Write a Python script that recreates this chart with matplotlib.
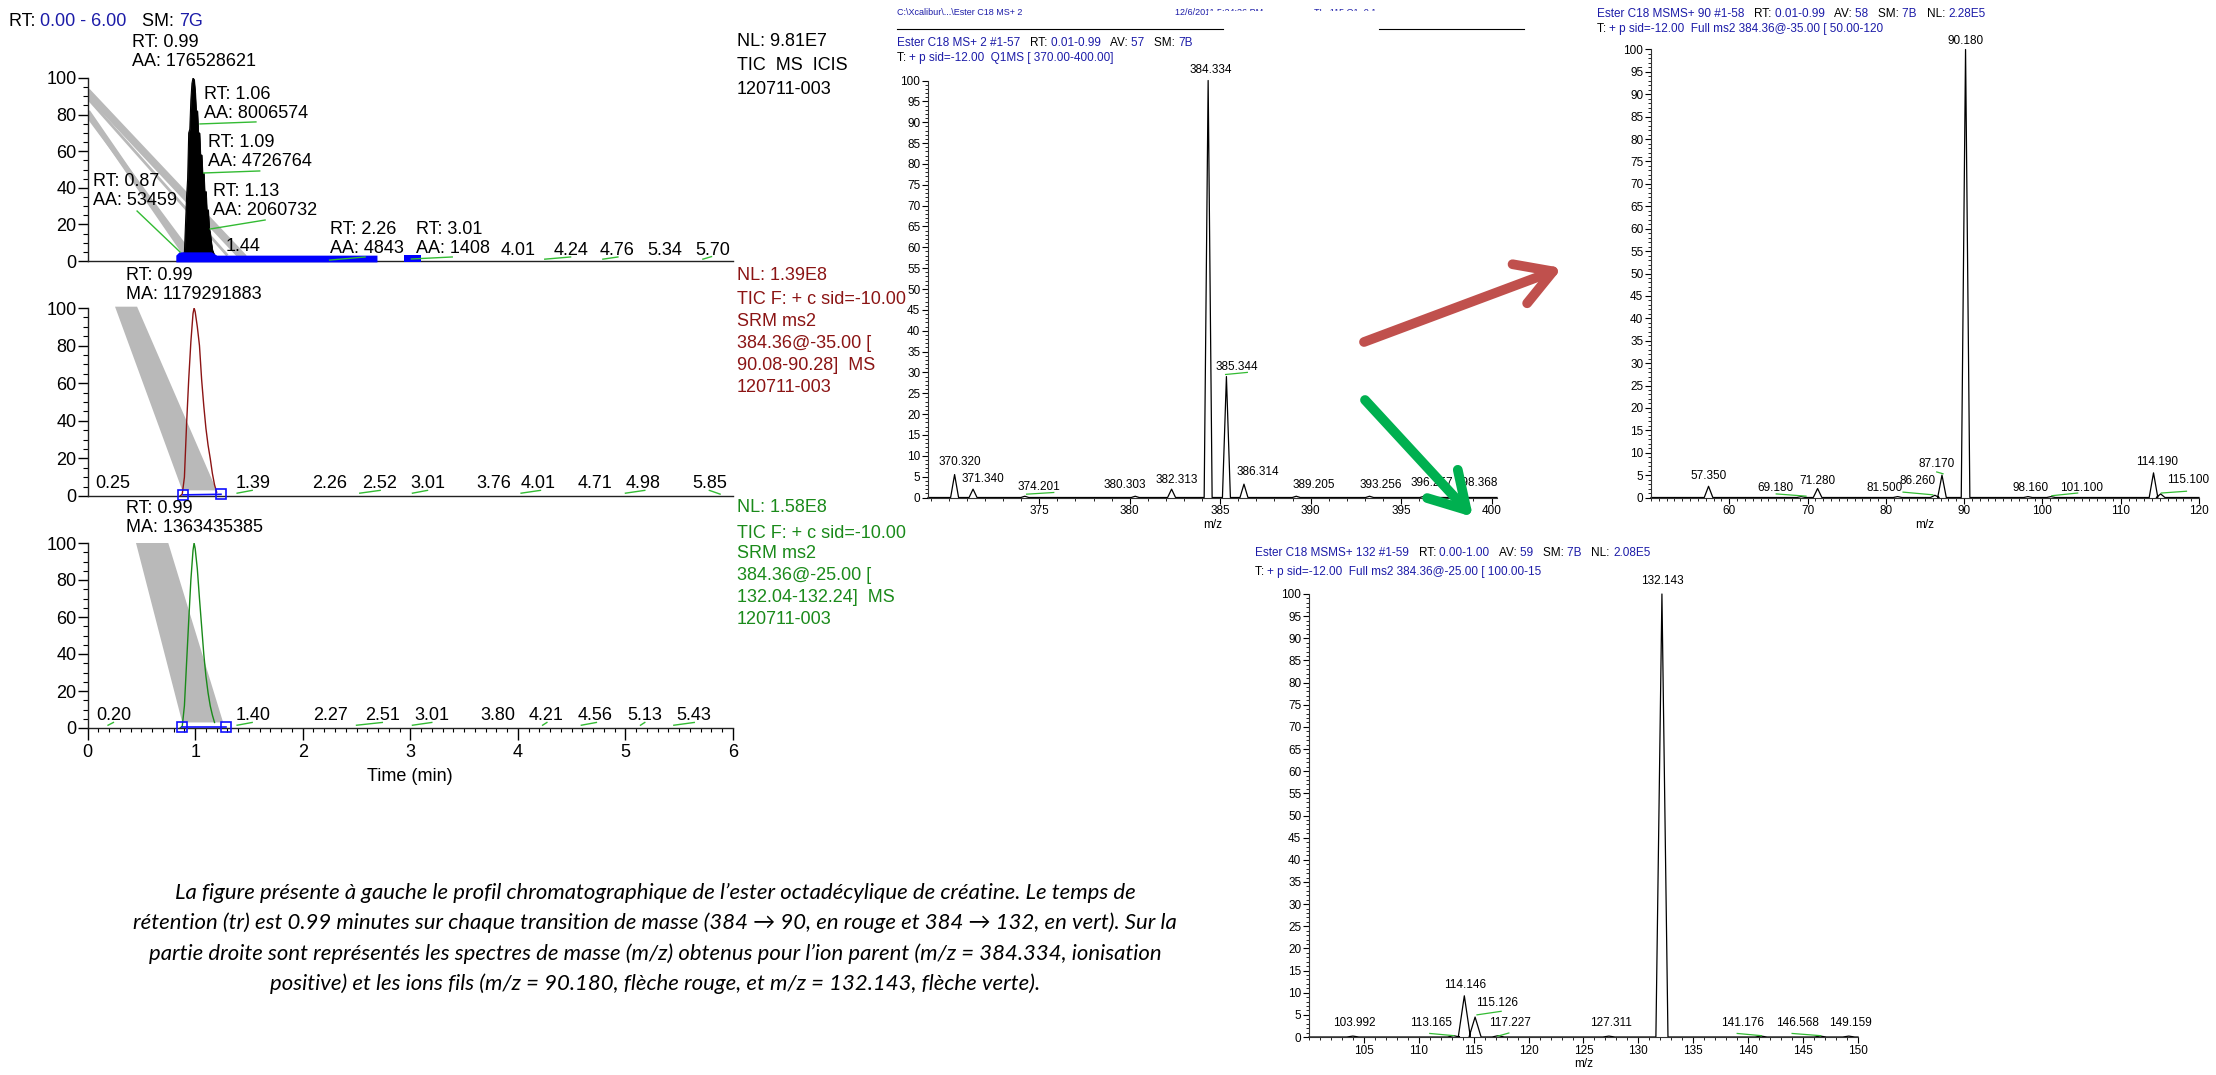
import matplotlib
matplotlib.use('Agg')
import matplotlib.pyplot as plt
import numpy as np
from matplotlib import font_manager as fm
from matplotlib.patches import Rectangle

W, H, DPI = 2216, 1075, 100

# ------------------------------------------------------------------ data
# TIC chromatogram (time min, relative abundance %)
tic_t = [0.86, 0.88, 0.90, 0.91, 0.92, 0.93, 0.94, 0.95, 0.96, 0.97, 0.98, 0.99, 1.00,
         1.01, 1.02, 1.03, 1.04, 1.05, 1.06, 1.07, 1.08, 1.09, 1.10, 1.11, 1.12, 1.13,
         1.14, 1.15, 1.16, 1.18, 1.20, 1.25, 1.30]
tic_v = [0, 2, 5, 20, 35, 45, 70, 72, 88, 97, 100, 99, 92,
         80, 82, 68, 70, 55, 58, 45, 48, 35, 38, 25, 28, 18,
         15, 10, 6, 3, 2, 1, 0]
# SRM 384 -> 90 chromatogram
srm90_t = [0.86, 0.88, 0.90, 0.92, 0.94, 0.96, 0.98, 0.99, 1.00, 1.02, 1.04, 1.06,
           1.08, 1.10, 1.12, 1.14, 1.16, 1.18, 1.20]
srm90_v = [0, 1, 10, 38, 62, 82, 97, 100, 98, 90, 80, 62, 48, 36, 27, 20, 12, 6, 2]
# SRM 384 -> 132 chromatogram
srm132_t = [0.86, 0.88, 0.90, 0.92, 0.94, 0.96, 0.98, 0.99, 1.00, 1.02, 1.04, 1.06,
            1.08, 1.10, 1.12, 1.14, 1.16, 1.18]
srm132_v = [0, 1, 12, 35, 58, 80, 96, 100, 97, 86, 70, 55, 40, 28, 19, 12, 7, 3]

# Peak labels of the chromatograms
tic_labels = ["RT: 0.99\nAA: 176528621", "RT: 1.06\nAA: 8006574", "RT: 1.09\nAA: 4726764",
              "RT: 1.13\nAA: 2060732", "RT: 0.87\nAA: 53459", "1.44",
              "RT: 2.26\nAA: 4843", "RT: 3.01\nAA: 1408", "4.01", "4.24", "4.76", "5.34", "5.70"]
srm90_labels = ["0.25", "1.39", "2.26", "2.52", "3.01", "3.76", "4.01", "4.71", "4.98", "5.85"]
srm132_labels = ["0.20", "1.40", "2.27", "2.51", "3.01", "3.80", "4.21", "4.56", "5.13", "5.43"]

# Mass spectra (m/z, relative abundance %)
ms1_mz = [370.320, 371.340, 374.201, 380.303, 382.313, 384.334, 385.344, 386.314,
          389.205, 393.256, 396.257, 398.368]
ms1_int = [5.5, 2.0, 0.3, 0.3, 2.0, 100, 29, 3.2, 0.3, 0.3, 0.3, 0.5]
ms90_mz = [57.350, 69.180, 71.280, 81.500, 86.260, 87.170, 90.180, 98.160, 101.100,
           114.190, 115.100]
ms90_int = [2.5, 0.2, 2.0, 0.2, 0.5, 5.0, 100, 0.2, 0.2, 5.5, 0.8]
ms132_mz = [103.992, 113.165, 114.146, 115.126, 117.227, 127.311, 132.143, 141.176,
            146.568, 149.159]
ms132_int = [0.2, 0.3, 9.3, 4.5, 0.3, 0.2, 100, 0.2, 0.2, 0.2]

# ------------------------------------------------------------------ fonts
names = {f.name for f in fm.fontManager.ttflist}
SANS = ['Liberation Sans', 'DejaVu Sans']
NARROW = (['Liberation Sans Narrow'] if 'Liberation Sans Narrow' in names else []) + SANS
CAPF = [f for f in ['Lato', 'Open Sans', 'DejaVu Sans'] if f in names] + ['DejaVu Sans']
plt.rcParams['font.family'] = SANS

BLUE = '#1c1ca8'
RED = '#8b1414'
GREEN = '#1a8a1a'
LGREEN = '#33bb33'
GRAY = '#b9b9b9'

fig = plt.figure(figsize=(W / DPI, H / DPI), dpi=DPI)
fig.patch.set_facecolor('white')


def rect(x0, y0, x1, y1):
    return [x0 / W, 1 - y1 / H, (x1 - x0) / W, (y1 - y0) / H]


# ------------------------------------------------------------------ chromatograms
CF = 13


def chrom_ax(y0, y1, bottom_ticks):
    ax = fig.add_axes(rect(87.6, y0, 733, y1))
    ax.set_xlim(0, 6)
    ax.set_ylim(0, 100)
    ax.spines[['top', 'right']].set_visible(False)
    for s in ['left', 'bottom']:
        ax.spines[s].set_linewidth(1.0)
        ax.spines[s].set_color('#222222')
    ax.set_yticks(np.arange(0, 101, 20))
    ax.set_yticks(np.arange(0, 101, 5), minor=True)
    ax.tick_params(axis='y', which='major', length=7.5, width=1, labelsize=CF, pad=0.5)
    ax.tick_params(axis='y', which='minor', length=3.5, width=0.8)
    if bottom_ticks:
        ax.set_xticks(range(0, 7))
        ax.set_xticks(np.arange(0, 6.001, 0.1), minor=True)
        ax.tick_params(axis='x', which='major', length=8.5, width=1, labelsize=CF, pad=3)
        ax.tick_params(axis='x', which='minor', length=3, width=0.8)
    else:
        ax.set_xticks([])
    ax.patch.set_alpha(0)
    return ax


def slash(ax, seg):
    (a, b), (c, d) = seg
    ax.plot([a, c], [b, d], color=LGREEN, lw=1.0, clip_on=False, zorder=4)


# Panel 1 : TIC
ax1 = chrom_ax(78, 261, False)
for (y0, t1, y1, lw) in [(93, 1.46, 2, 4), (91, 1.42, 2, 3), (89, 1.30, 3, 2),
                         (81.5, 0.92, 3, 4), (79.5, 0.98, 2, 3)]:
    ax1.plot([0, t1], [y0, y1], color=GRAY, lw=lw, solid_capstyle='butt', zorder=1)
ax1.fill_between(tic_t, 0, tic_v, color='black', lw=0.6, zorder=2)
ax1.plot(tic_t, tic_v, color='black', lw=0.8, zorder=2)
ax1.fill_between([0.82, 0.85, 1.15, 1.20, 2.69], -0.5, [3.2, 5, 5, 3.2, 3.2],
                 color='#0000ff', lw=0, clip_on=False, zorder=3)
ax1.fill_between([2.94, 3.10], -0.5, 3.2, color='#0000ff', lw=0, clip_on=False, zorder=3)
tic_pos = [(0.41, 114), (1.08, 86), (1.12, 59.5), (1.165, 33), (0.05, 38.5), (1.28, 7.7),
           (2.25, 12), (3.05, 12), (3.84, 6), (4.33, 6), (4.76, 6), (5.20, 6), (5.65, 6)]
for s, (x, y) in zip(tic_labels, tic_pos):
    ax1.text(x, y, s, fontsize=CF, ha='left', va='center', linespacing=1.15,
             clip_on=False, zorder=5)
for seg in [((1.045, 74.9), (1.565, 76)), ((1.08, 48.1), (1.60, 49.2)),
            ((1.14, 17.5), (1.65, 22.4)), ((0.46, 27.3), (0.86, 4.9)),
            ((2.25, 0.5), (2.58, 2.2)), ((3.01, 1.1), (3.39, 2.2)),
            ((4.25, 1.0), (4.49, 2.2)), ((4.79, 1.0), (4.93, 2.2)), ((5.72, 1.0), (5.80, 2.4))]:
    slash(ax1, seg)

# Panel 2 : SRM 90
ax2 = chrom_ax(308, 496, False)
ax2.fill([0.255, 0.46, 1.20, 0.88], [100.7, 100.7, 3, 3], color=GRAY, lw=0,
         clip_on=False, zorder=1)
ax2.plot(srm90_t, srm90_v, color=RED, lw=1.0, zorder=2)
ax2.plot([0.887, 1.24], [0.6, 0.9], color='#1010ff', lw=1.2, marker='s', mfc='none',
         mec='#1010ff', ms=7, mew=1.2, clip_on=False, zorder=4)
ax2.text(0.357, 112, "RT: 0.99\nMA: 1179291883", fontsize=CF, ha='left', va='center',
         linespacing=1.15, clip_on=False)
srm90_pos = [0.07, 1.38, 2.09, 2.55, 3.00, 3.61, 4.03, 4.56, 5.00, 5.62]
for s, x in zip(srm90_labels, srm90_pos):
    ax2.text(x, 6.9, s, fontsize=CF, ha='left', va='center', clip_on=False)
for seg in [((1.39, 1.5), (1.53, 3.0)), ((2.53, 1.5), (2.72, 3.0)), ((3.02, 1.5), (3.16, 3.0)),
            ((4.03, 1.5), (4.21, 3.0)), ((5.00, 1.5), (5.18, 3.0)), ((5.78, 3.0), (5.88, 1.0))]:
    slash(ax2, seg)

# Panel 3 : SRM 132
ax3 = chrom_ax(543, 728, True)
ax3.fill([0.45, 0.75, 1.26, 0.88], [100, 100, 3, 3], color=GRAY, lw=0, clip_on=False, zorder=1)
ax3.plot(srm132_t, srm132_v, color=GREEN, lw=1.0, zorder=2)
ax3.plot([0.88, 1.29], [0.6, 0.6], color='#1010ff', lw=1.2, marker='s', mfc='none',
         mec='#1010ff', ms=7, mew=1.2, clip_on=False, zorder=4)
ax3.text(0.357, 113.5, "RT: 0.99\nMA: 1363435385", fontsize=CF, ha='left', va='center',
         linespacing=1.15, clip_on=False)
srm132_pos = [0.08, 1.38, 2.10, 2.58, 3.04, 3.65, 4.10, 4.56, 5.02, 5.47]
for s, x in zip(srm132_labels, srm132_pos):
    ax3.text(x, 7, s, fontsize=CF, ha='left', va='center', clip_on=False)
for seg in [((0.19, 1.5), (0.24, 3.0)), ((1.39, 1.5), (1.53, 3.0)), ((2.50, 1.5), (2.74, 3.0)),
            ((3.02, 1.5), (3.20, 3.0)), ((4.23, 1.5), (4.27, 3.0)), ((4.59, 1.5), (4.73, 3.0)),
            ((5.14, 1.5), (5.18, 3.0)), ((5.45, 1.5), (5.64, 3.0))]:
    slash(ax3, seg)
ax3.set_xlabel("Time (min)", fontsize=CF, labelpad=5)

# ------------------------------------------------------------------ spectra
SF = 8.5


def spec_ax(x0, y0, x1, y1, xlim, major):
    ax = fig.add_axes(rect(x0, y0, x1, y1))
    ax.set_xlim(*xlim)
    ax.set_ylim(0, 100)
    ax.spines[['top', 'right']].set_visible(False)
    for s in ['left', 'bottom']:
        ax.spines[s].set_linewidth(0.8)
        ax.spines[s].set_color('#333333')
    ax.set_yticks(np.arange(0, 101, 5))
    ax.set_yticks(np.arange(0, 101, 1), minor=True)
    ax.set_xticks(major)
    ax.set_xticks(np.arange(np.ceil(xlim[0]), xlim[1] + 0.01, 1), minor=True)
    for a in ['x', 'y']:
        ax.tick_params(axis=a, which='major', length=4, width=0.8, labelsize=SF, pad=1.5)
        ax.tick_params(axis=a, which='minor', length=2, width=0.6)
    for lab in ax.get_xticklabels() + ax.get_yticklabels():
        lab.set_family(NARROW)
    ax.set_xlabel("m/z", fontsize=SF, family=NARROW, labelpad=1)
    ax.patch.set_alpha(0)
    return ax


def profile(mz, inten, hw, xlim):
    xs, ys = [xlim[0]], [0]
    for m, h in sorted(zip(mz, inten)):
        xs += [m - hw, m, m + hw]
        ys += [0, h, 0]
    xs.append(xlim[1])
    ys.append(0)
    return xs, ys


def spec_labels(ax, mz, pos, links):
    for m, (x, y) in zip(mz, pos):
        ax.text(x, y, f"{m:.3f}", fontsize=SF, family=NARROW, ha='center', va='center',
                clip_on=False)
    for (a, b), (c, d) in links:
        ax.plot([a, c], [b, d], color=LGREEN, lw=0.9, clip_on=False)


# Spectrum 1 : full scan
lim1 = (368.85, 400.3)
sp1 = spec_ax(928, 80.5, 1497, 497.5, lim1, np.arange(375, 401, 5))
sp1.plot(*profile(ms1_mz, ms1_int, 0.22, lim1), color='black', lw=0.9, clip_on=False)
spec_labels(sp1, ms1_mz,
            [(370.6, 8.5), (371.9, 4.4), (375.0, 2.4), (379.7, 3.0), (382.6, 4.2),
             (384.5, 102.5), (385.9, 31.3), (387.1, 6.1), (390.2, 3.0), (393.9, 3.0),
             (396.7, 3.5), (399.2, 3.5)],
            [((385.3, 29.5), (386.5, 30)), ((374.3, 0.8), (375.8, 1.2))])

# Spectrum 2 : product ions of 384 (CE 35)
lim2 = (50, 120)
sp2 = spec_ax(1651, 49.5, 2199, 497.5, lim2, np.arange(60, 121, 10))
sp2.plot(*profile(ms90_mz, ms90_int, 0.55, lim2), color='black', lw=0.9, clip_on=False)
spec_labels(sp2, ms90_mz,
            [(57.35, 4.8), (65.9, 2.2), (71.3, 3.6), (79.9, 2.2), (84.0, 3.6), (86.5, 7.4),
             (90.18, 102), (98.5, 2.2), (105.0, 2.2), (114.6, 8.0), (118.6, 4.0)],
            [((66.0, 0.8), (69.8, 0.3)), ((82.2, 1.2), (86.0, 0.6)), ((86.5, 5.7), (87.3, 5.3)),
             ((101.2, 0.4), (104.5, 1.0)), ((115.2, 1.0), (118.4, 1.4))])

# Spectrum 3 : product ions of 384 (CE 25)
lim3 = (100, 150)
sp3 = spec_ax(1309, 594, 1858, 1037, lim3, np.arange(105, 151, 5))
sp3.plot(*profile(ms132_mz, ms132_int, 0.55, lim3), color='black', lw=0.9, clip_on=False)
spec_labels(sp3, ms132_mz,
            [(104.1, 3.2), (111.1, 3.2), (114.2, 11.7), (117.1, 7.7), (118.3, 3.2),
             (127.5, 3.2), (132.2, 103), (139.5, 3.2), (144.5, 3.2), (149.3, 3.2)],
            [((111.0, 0.8), (113.2, 0.3)), ((115.3, 5.0), (117.5, 5.8)),
             ((117.2, 0.2), (118.2, 0.9)), ((139.0, 0.8), (141.2, 0.3)),
             ((144.0, 0.8), (146.6, 0.3))])

# ------------------------------------------------------------------ overlay (pixel coords)
ov = fig.add_axes([0, 0, 1, 1], zorder=20)
ov.set_xlim(0, W)
ov.set_ylim(H, 0)
ov.axis('off')
ov.patch.set_visible(False)


def ctext(x, y, pieces, size, family=SANS):
    t = ov.text(x, y, pieces[0][0], color=pieces[0][1], fontsize=size, family=family,
                ha='left', va='bottom')
    for s, c in pieces[1:]:
        t = ov.annotate(s, xy=(1, 0), xycoords=t, color=c, fontsize=size, family=family,
                        ha='left', va='bottom')
    return t


# top-left header
ctext(9, 30, [("RT: ", 'black'), ("0.00 - 6.00", BLUE), ("   SM: ", 'black'), ("7G", BLUE)], CF)

for i, s in enumerate(["NL: 9.81E7", "TIC  MS  ICIS", "120711-003"]):
    ov.text(737, [42, 66, 89][i], s, fontsize=CF, ha='left', va='center')
for i, s in enumerate(["NL: 1.39E8", "TIC F: + c sid=-10.00", "SRM ms2", "384.36@-35.00 [",
                       "90.08-90.28]  MS", "120711-003"]):
    ov.text(737, [275, 300, 322, 344, 366, 388][i], s, fontsize=CF, ha='left', va='center',
            color=RED)
for i, s in enumerate(["NL: 1.58E8", "TIC F: + c sid=-10.00", "SRM ms2", "384.36@-25.00 [",
                       "132.04-132.24]  MS", "120711-003"]):
    ov.text(737, [507, 533, 554, 576, 598, 620][i], s, fontsize=CF, ha='left', va='center',
            color=GREEN)

HF = 8.5
# spectrum 1 file header (partly clipped in the original)
ov.text(897, 17, r"C:\Xcalibur\...\Ester C18 MS+ 2", fontsize=6.5, family=NARROW,
        color=BLUE, ha='left', va='bottom')
ov.text(1175, 17, "12/6/2011 5:24:26 PM", fontsize=6.5, family=NARROW, color=BLUE,
        ha='left', va='bottom')
ov.text(1314, 17, "TL=115 Q1=0.1", fontsize=6.5, family=NARROW, color=BLUE,
        ha='left', va='bottom')
ov.add_patch(Rectangle((1208, 11), 260, 10, facecolor='white', edgecolor='none', zorder=5))
ov.plot([897, 1223], [29, 29], color='black', lw=0.8)
ov.plot([1379, 1524], [29, 29], color='black', lw=0.8)

ctext(897, 49, [("Ester C18 MS+ 2 #1-57   ", BLUE), ("RT: ", 'black'), ("0.01-0.99   ", BLUE),
                ("AV: ", 'black'), ("57   ", BLUE), ("SM: ", 'black'), ("7B", BLUE)], HF, NARROW)
ctext(897, 64, [("T: ", 'black'), ("+ p sid=-12.00  Q1MS [ 370.00-400.00]", BLUE)], HF, NARROW)

ctext(1597, 20, [("Ester C18 MSMS+ 90 #1-58   ", BLUE), ("RT: ", 'black'), ("0.01-0.99   ", BLUE),
                 ("AV: ", 'black'), ("58   ", BLUE), ("SM: ", 'black'), ("7B   ", BLUE),
                 ("NL: ", 'black'), ("2.28E5", BLUE)], HF, NARROW)
ctext(1597, 35, [("T: ", 'black'), ("+ p sid=-12.00  Full ms2 384.36@-35.00 [ 50.00-120", BLUE)],
      HF, NARROW)

ctext(1255, 559, [("Ester C18 MSMS+ 132 #1-59   ", BLUE), ("RT: ", 'black'), ("0.00-1.00   ", BLUE),
                  ("AV: ", 'black'), ("59   ", BLUE), ("SM: ", 'black'), ("7B   ", BLUE),
                  ("NL: ", 'black'), ("2.08E5", BLUE)], HF, NARROW)
ctext(1255, 578, [("T: ", 'black'), ("+ p sid=-12.00  Full ms2 384.36@-25.00 [ 100.00-15", BLUE)],
      HF, NARROW)

# arrows
ov.annotate('', xy=(1562, 268), xytext=(1364, 342),
            arrowprops=dict(arrowstyle='->,head_length=0.85,head_width=0.5', lw=7,
                            color='#C0504D', mutation_scale=30, shrinkA=0, shrinkB=0))
ov.annotate('', xy=(1473, 517), xytext=(1365, 400),
            arrowprops=dict(arrowstyle='->,head_length=0.85,head_width=0.5', lw=7,
                            color='#00B050', mutation_scale=30, shrinkA=0, shrinkB=0))

# caption
caption = [
    "La figure présente à gauche le profil chromatographique de l’ester octadécylique de créatine. Le temps de",
    "rétention (tr) est 0.99 minutes sur chaque transition de masse (384 \u2192 90, en rouge et 384 \u2192 132, en vert). Sur la",
    "partie droite sont représentés les spectres de masse (m/z) obtenus pour l’ion parent (m/z = 384.334, ionisation",
    "positive) et les ions fils (m/z = 90.180, flèche rouge, et m/z = 132.143, flèche verte).",
]
for i, s in enumerate(caption):
    ov.text(655, [893, 923, 954, 984][i], s, fontsize=15.9, family=CAPF, style='italic',
            ha='center', va='center')

fig.savefig('out.png', dpi=DPI, facecolor='white')
